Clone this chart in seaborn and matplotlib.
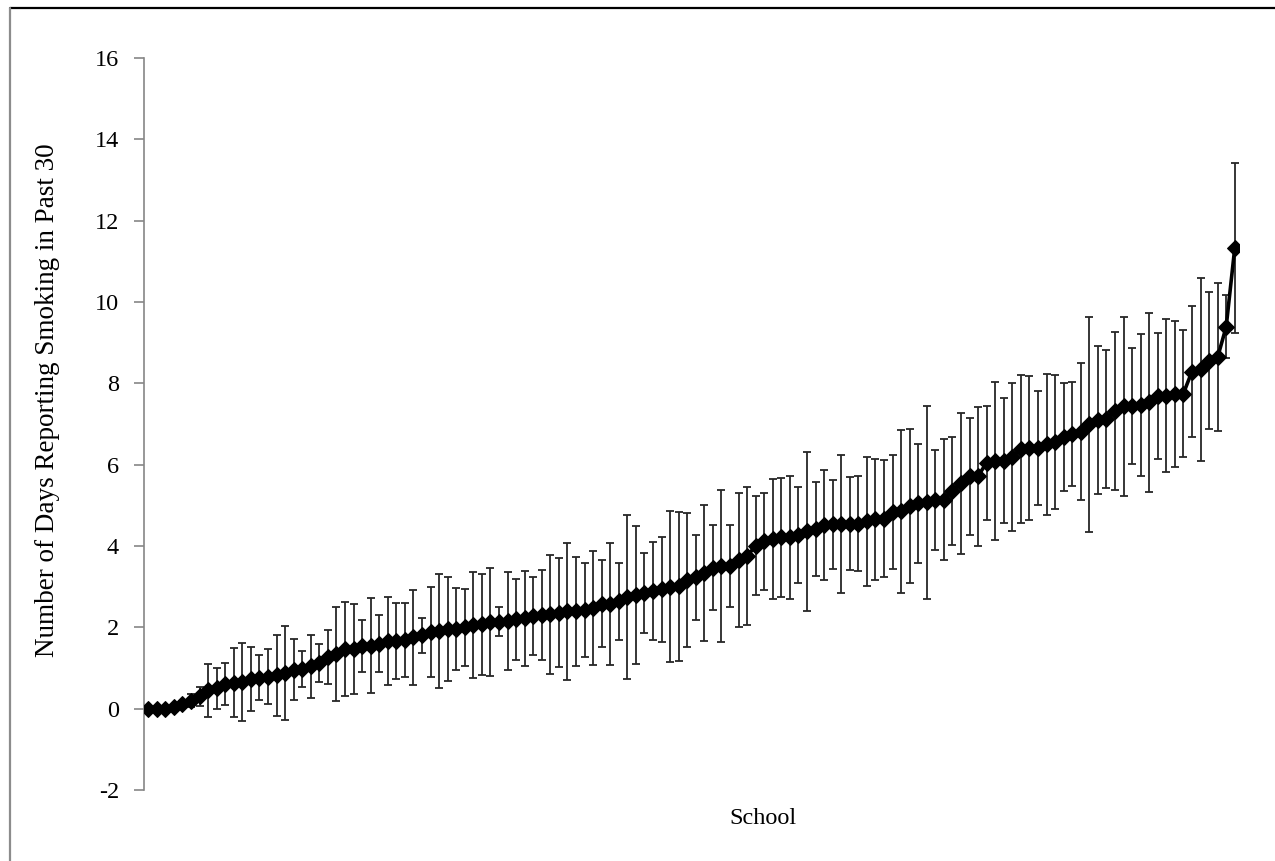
import numpy as np
import pandas as pd
import matplotlib
matplotlib.use("Agg")
import matplotlib.pyplot as plt
import seaborn as sns

# ---- data ----
means = [0.0, 0.0, 0.0, 0.03, 0.12, 0.2, 0.3, 0.45, 0.5, 0.6,
         0.64, 0.66, 0.73, 0.76, 0.79, 0.82, 0.88, 0.96, 0.97, 1.04,
         1.12, 1.27, 1.34, 1.46, 1.47, 1.54, 1.55, 1.6, 1.66, 1.67,
         1.70, 1.76, 1.80, 1.89, 1.91, 1.95, 1.96, 2.0, 2.06, 2.07,
         2.13, 2.14, 2.16, 2.2, 2.22, 2.28, 2.3, 2.32, 2.36, 2.39,
         2.4, 2.42, 2.48, 2.58, 2.58, 2.64, 2.75, 2.79, 2.84, 2.9,
         2.94, 3.0, 3.01, 3.17, 3.23, 3.34, 3.47, 3.5, 3.51, 3.65,
         3.75, 4.01, 4.12, 4.17, 4.21, 4.21, 4.27, 4.36, 4.42, 4.52,
         4.53, 4.55, 4.55, 4.55, 4.61, 4.66, 4.67, 4.84, 4.85, 4.98,
         5.05, 5.07, 5.13, 5.14, 5.36, 5.54, 5.71, 5.72, 6.05, 6.09,
         6.1, 6.19, 6.39, 6.41, 6.41, 6.5, 6.56, 6.68, 6.76, 6.81,
         6.99, 7.09, 7.12, 7.32, 7.44, 7.45, 7.47, 7.53, 7.68, 7.7,
         7.74, 7.75, 8.29, 8.35, 8.56, 8.64, 9.39, 11.32]
errors = [0, 0, 0, 0, 0.08, 0.15, 0.23, 0.66, 0.5, 0.52,
          0.85, 0.96, 0.78, 0.55, 0.68, 1.0, 1.15, 0.75, 0.44, 0.78,
          0.47, 0.66, 1.15, 1.16, 1.11, 0.65, 1.17, 0.71, 1.09, 0.94,
          0.91, 1.17, 0.43, 1.10, 1.41, 1.28, 1.01, 0.94, 1.30, 1.25,
          1.33, 0.35, 1.2, 1.0, 1.16, 0.95, 1.1, 1.46, 1.34, 1.68,
          1.34, 1.16, 1.40, 1.07, 1.5, 0.95, 2.02, 1.69, 0.98, 1.21,
          1.29, 1.86, 1.83, 1.65, 1.05, 1.68, 1.04, 1.87, 1.0, 1.65,
          1.7, 1.21, 1.19, 1.47, 1.47, 1.52, 1.19, 1.95, 1.16, 1.36,
          1.1, 1.7, 1.15, 1.17, 1.59, 1.49, 1.44, 1.41, 2.0, 1.9,
          1.46, 2.38, 1.24, 1.49, 1.33, 1.73, 1.43, 1.71, 1.4, 1.94,
          1.53, 1.82, 1.82, 1.76, 1.39, 1.73, 1.65, 1.32, 1.28, 1.68,
          2.65, 1.82, 1.7, 1.94, 2.2, 1.43, 1.74, 2.2, 1.55, 1.89,
          1.8, 1.56, 1.62, 2.25, 1.68, 1.82, 0.77, 2.09]
schools = list(range(1, len(means) + 1))
y_ticks = [-2, 0, 2, 4, 6, 8, 10, 12, 14, 16]
y_label = "Number of Days Reporting Smoking in Past 30"
x_label = "School"

df = pd.DataFrame({"school": schools, "mean": means, "err": errors})

# ---- figure ----
sns.set_style("white")
plt.rcParams["font.family"] = ["Liberation Serif", "DejaVu Serif"]

W, H = 1275, 861
fig = plt.figure(figsize=(W / 100, H / 100), dpi=100)
left, right, top, bottom = 144, 1239, 58, 790
ax = fig.add_axes([left / W, 1 - bottom / H, (right - left) / W, (bottom - top) / H])

ax.errorbar(df["school"], df["mean"], yerr=df["err"], fmt="none",
            ecolor="#262626", elinewidth=1.3, capsize=2.8, capthick=1.3, zorder=2)
sns.lineplot(data=df, x="school", y="mean", ax=ax, color="black",
             linewidth=2.6, marker="D", markersize=8.5,
             markeredgecolor="black", markerfacecolor="black", zorder=3)

ax.set_xlim(0.5, len(schools) + 0.5)
ax.set_ylim(-2, 16)
ax.set_yticks(y_ticks)
ax.set_yticklabels([str(t) for t in y_ticks])
ax.set_xticks([])
ax.set_xlabel("")
ax.set_ylabel("")

for s in ["top", "right", "bottom"]:
    ax.spines[s].set_visible(False)
ax.spines["left"].set_color("#868686")
ax.spines["left"].set_linewidth(1.2)
ax.tick_params(axis="y", direction="out", length=7, width=1.2, color="#868686",
               pad=11, labelsize=17.5, labelcolor="black", left=True)

fig.text(48 / W, 1 - 400 / H, y_label, rotation=90, ha="center", va="center",
         fontsize=19.5, color="black")
fig.text(763 / W, 1 - 818 / H, x_label, ha="center", va="center",
         fontsize=17.5, color="black")

# chart-area border remnants
fig.add_artist(plt.Line2D([10 / W, 1], [1 - 8 / H, 1 - 8 / H], color="black", linewidth=1.6))
fig.add_artist(plt.Line2D([10 / W, 10 / W], [0, 1 - 8 / H], color="#8c8c8c", linewidth=1.6))

fig.savefig("out.png", dpi=100, facecolor="white")
